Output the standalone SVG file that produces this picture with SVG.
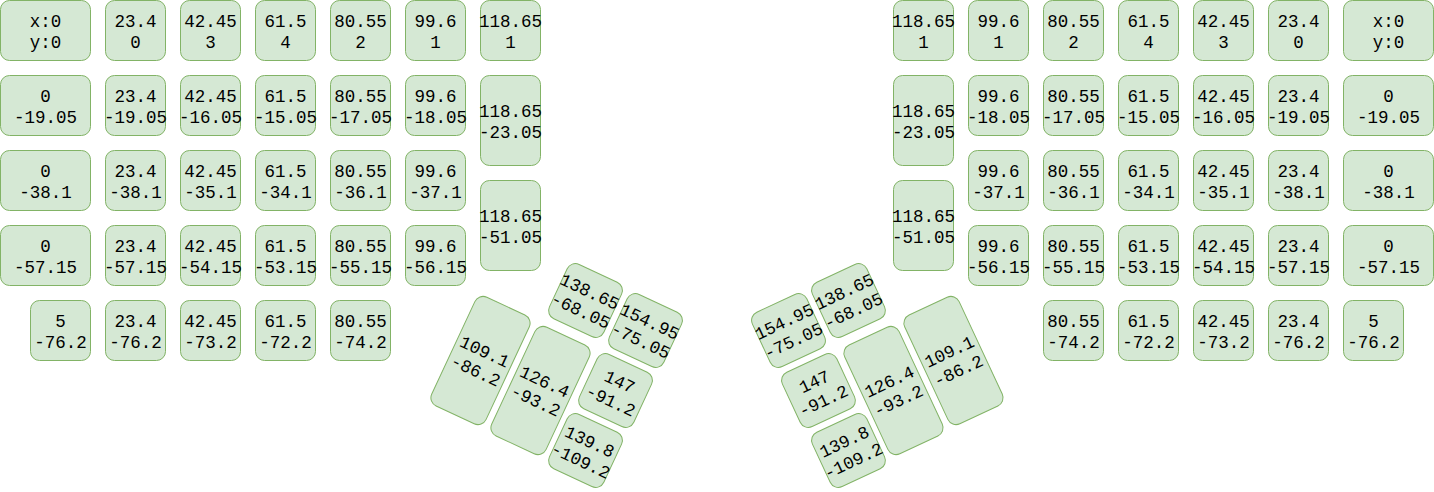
<svg xmlns="http://www.w3.org/2000/svg" width="1434" height="492" viewBox="0 0 1434 492">
<style>
.k{fill:#d5e8d4;stroke:#82b366;stroke-width:1}
.t{font-family:"Liberation Mono","Courier New",monospace;font-size:17.5px;fill:#000;text-anchor:middle}
</style>
<rect width="1434" height="492" fill="#ffffff"/>
<g transform="translate(0.5,0.5)">
<g id="left-main">
<g id="L-r0c0"><rect class="k" x="0" y="0" width="90" height="60" rx="9"/><text class="t" x="45" y="26">x:0<tspan x="45" dy="21">y:0</tspan></text></g>
<g id="L-r0c1"><rect class="k" x="105" y="0" width="60" height="60" rx="9"/><text class="t" x="135" y="26">23.4<tspan x="135" dy="21">0</tspan></text></g>
<g id="L-r0c2"><rect class="k" x="180" y="0" width="60" height="60" rx="9"/><text class="t" x="210" y="26">42.45<tspan x="210" dy="21">3</tspan></text></g>
<g id="L-r0c3"><rect class="k" x="255" y="0" width="60" height="60" rx="9"/><text class="t" x="285" y="26">61.5<tspan x="285" dy="21">4</tspan></text></g>
<g id="L-r0c4"><rect class="k" x="330" y="0" width="60" height="60" rx="9"/><text class="t" x="360" y="26">80.55<tspan x="360" dy="21">2</tspan></text></g>
<g id="L-r0c5"><rect class="k" x="405" y="0" width="60" height="60" rx="9"/><text class="t" x="435" y="26">99.6<tspan x="435" dy="21">1</tspan></text></g>
<g id="L-r0c6"><rect class="k" x="480" y="0" width="60" height="60" rx="9"/><text class="t" x="510" y="26">118.65<tspan x="510" dy="21">1</tspan></text></g>

<g id="L-r1c0"><rect class="k" x="0" y="75" width="90" height="60" rx="9"/><text class="t" x="45" y="101">0<tspan x="45" dy="21">-19.05</tspan></text></g>
<g id="L-r1c1"><rect class="k" x="105" y="75" width="60" height="60" rx="9"/><text class="t" x="135" y="101">23.4<tspan x="135" dy="21">-19.05</tspan></text></g>
<g id="L-r1c2"><rect class="k" x="180" y="75" width="60" height="60" rx="9"/><text class="t" x="210" y="101">42.45<tspan x="210" dy="21">-16.05</tspan></text></g>
<g id="L-r1c3"><rect class="k" x="255" y="75" width="60" height="60" rx="9"/><text class="t" x="285" y="101">61.5<tspan x="285" dy="21">-15.05</tspan></text></g>
<g id="L-r1c4"><rect class="k" x="330" y="75" width="60" height="60" rx="9"/><text class="t" x="360" y="101">80.55<tspan x="360" dy="21">-17.05</tspan></text></g>
<g id="L-r1c5"><rect class="k" x="405" y="75" width="60" height="60" rx="9"/><text class="t" x="435" y="101">99.6<tspan x="435" dy="21">-18.05</tspan></text></g>
<g id="L-r1c6"><rect class="k" x="480" y="75" width="60" height="90" rx="9"/><text class="t" x="510" y="116">118.65<tspan x="510" dy="21">-23.05</tspan></text></g>

<g id="L-r2c0"><rect class="k" x="0" y="150" width="90" height="60" rx="9"/><text class="t" x="45" y="176">0<tspan x="45" dy="21">-38.1</tspan></text></g>
<g id="L-r2c1"><rect class="k" x="105" y="150" width="60" height="60" rx="9"/><text class="t" x="135" y="176">23.4<tspan x="135" dy="21">-38.1</tspan></text></g>
<g id="L-r2c2"><rect class="k" x="180" y="150" width="60" height="60" rx="9"/><text class="t" x="210" y="176">42.45<tspan x="210" dy="21">-35.1</tspan></text></g>
<g id="L-r2c3"><rect class="k" x="255" y="150" width="60" height="60" rx="9"/><text class="t" x="285" y="176">61.5<tspan x="285" dy="21">-34.1</tspan></text></g>
<g id="L-r2c4"><rect class="k" x="330" y="150" width="60" height="60" rx="9"/><text class="t" x="360" y="176">80.55<tspan x="360" dy="21">-36.1</tspan></text></g>
<g id="L-r2c5"><rect class="k" x="405" y="150" width="60" height="60" rx="9"/><text class="t" x="435" y="176">99.6<tspan x="435" dy="21">-37.1</tspan></text></g>
<g id="L-r2c6"><rect class="k" x="480" y="180" width="60" height="90" rx="9"/><text class="t" x="510" y="221">118.65<tspan x="510" dy="21">-51.05</tspan></text></g>

<g id="L-r3c0"><rect class="k" x="0" y="225" width="90" height="60" rx="9"/><text class="t" x="45" y="251">0<tspan x="45" dy="21">-57.15</tspan></text></g>
<g id="L-r3c1"><rect class="k" x="105" y="225" width="60" height="60" rx="9"/><text class="t" x="135" y="251">23.4<tspan x="135" dy="21">-57.15</tspan></text></g>
<g id="L-r3c2"><rect class="k" x="180" y="225" width="60" height="60" rx="9"/><text class="t" x="210" y="251">42.45<tspan x="210" dy="21">-54.15</tspan></text></g>
<g id="L-r3c3"><rect class="k" x="255" y="225" width="60" height="60" rx="9"/><text class="t" x="285" y="251">61.5<tspan x="285" dy="21">-53.15</tspan></text></g>
<g id="L-r3c4"><rect class="k" x="330" y="225" width="60" height="60" rx="9"/><text class="t" x="360" y="251">80.55<tspan x="360" dy="21">-55.15</tspan></text></g>
<g id="L-r3c5"><rect class="k" x="405" y="225" width="60" height="60" rx="9"/><text class="t" x="435" y="251">99.6<tspan x="435" dy="21">-56.15</tspan></text></g>

<g id="L-r4c0"><rect class="k" x="30" y="300" width="60" height="60" rx="9"/><text class="t" x="60" y="326">5<tspan x="60" dy="21">-76.2</tspan></text></g>
<g id="L-r4c1"><rect class="k" x="105" y="300" width="60" height="60" rx="9"/><text class="t" x="135" y="326">23.4<tspan x="135" dy="21">-76.2</tspan></text></g>
<g id="L-r4c2"><rect class="k" x="180" y="300" width="60" height="60" rx="9"/><text class="t" x="210" y="326">42.45<tspan x="210" dy="21">-73.2</tspan></text></g>
<g id="L-r4c3"><rect class="k" x="255" y="300" width="60" height="60" rx="9"/><text class="t" x="285" y="326">61.5<tspan x="285" dy="21">-72.2</tspan></text></g>
<g id="L-r4c4"><rect class="k" x="330" y="300" width="60" height="60" rx="9"/><text class="t" x="360" y="326">80.55<tspan x="360" dy="21">-74.2</tspan></text></g>
</g>

<g id="left-thumb">
<g id="L-t1" transform="translate(480,360) rotate(25)"><rect class="k" x="-30" y="-60" width="60" height="120" rx="9"/><text class="t" x="0" y="-4">109.1<tspan x="0" dy="21">-86.2</tspan></text></g>
<g id="L-t2" transform="translate(540,390) rotate(25)"><rect class="k" x="-30" y="-60" width="60" height="120" rx="9"/><text class="t" x="0" y="-4">126.4<tspan x="0" dy="21">-93.2</tspan></text></g>
<g id="L-t3" transform="translate(585,300) rotate(25)"><rect class="k" x="-30" y="-30" width="60" height="60" rx="9"/><text class="t" x="0" y="-4">138.65<tspan x="0" dy="21">-68.05</tspan></text></g>
<g id="L-t4" transform="translate(645,330) rotate(25)"><rect class="k" x="-30" y="-30" width="60" height="60" rx="9"/><text class="t" x="0" y="-4">154.95<tspan x="0" dy="21">-75.05</tspan></text></g>
<g id="L-t5" transform="translate(615,390) rotate(25)"><rect class="k" x="-30" y="-30" width="60" height="60" rx="9"/><text class="t" x="0" y="-4">147<tspan x="0" dy="21">-91.2</tspan></text></g>
<g id="L-t6" transform="translate(585,450) rotate(25)"><rect class="k" x="-30" y="-30" width="60" height="60" rx="9"/><text class="t" x="0" y="-4">139.8<tspan x="0" dy="21">-109.2</tspan></text></g>
</g>

<g id="right-main">
<g id="R-r0c0"><rect class="k" x="1343" y="0" width="90" height="60" rx="9"/><text class="t" x="1388" y="26">x:0<tspan x="1388" dy="21">y:0</tspan></text></g>
<g id="R-r0c1"><rect class="k" x="1268" y="0" width="60" height="60" rx="9"/><text class="t" x="1298" y="26">23.4<tspan x="1298" dy="21">0</tspan></text></g>
<g id="R-r0c2"><rect class="k" x="1193" y="0" width="60" height="60" rx="9"/><text class="t" x="1223" y="26">42.45<tspan x="1223" dy="21">3</tspan></text></g>
<g id="R-r0c3"><rect class="k" x="1118" y="0" width="60" height="60" rx="9"/><text class="t" x="1148" y="26">61.5<tspan x="1148" dy="21">4</tspan></text></g>
<g id="R-r0c4"><rect class="k" x="1043" y="0" width="60" height="60" rx="9"/><text class="t" x="1073" y="26">80.55<tspan x="1073" dy="21">2</tspan></text></g>
<g id="R-r0c5"><rect class="k" x="968" y="0" width="60" height="60" rx="9"/><text class="t" x="998" y="26">99.6<tspan x="998" dy="21">1</tspan></text></g>
<g id="R-r0c6"><rect class="k" x="893" y="0" width="60" height="60" rx="9"/><text class="t" x="923" y="26">118.65<tspan x="923" dy="21">1</tspan></text></g>

<g id="R-r1c0"><rect class="k" x="1343" y="75" width="90" height="60" rx="9"/><text class="t" x="1388" y="101">0<tspan x="1388" dy="21">-19.05</tspan></text></g>
<g id="R-r1c1"><rect class="k" x="1268" y="75" width="60" height="60" rx="9"/><text class="t" x="1298" y="101">23.4<tspan x="1298" dy="21">-19.05</tspan></text></g>
<g id="R-r1c2"><rect class="k" x="1193" y="75" width="60" height="60" rx="9"/><text class="t" x="1223" y="101">42.45<tspan x="1223" dy="21">-16.05</tspan></text></g>
<g id="R-r1c3"><rect class="k" x="1118" y="75" width="60" height="60" rx="9"/><text class="t" x="1148" y="101">61.5<tspan x="1148" dy="21">-15.05</tspan></text></g>
<g id="R-r1c4"><rect class="k" x="1043" y="75" width="60" height="60" rx="9"/><text class="t" x="1073" y="101">80.55<tspan x="1073" dy="21">-17.05</tspan></text></g>
<g id="R-r1c5"><rect class="k" x="968" y="75" width="60" height="60" rx="9"/><text class="t" x="998" y="101">99.6<tspan x="998" dy="21">-18.05</tspan></text></g>
<g id="R-r1c6"><rect class="k" x="893" y="75" width="60" height="90" rx="9"/><text class="t" x="923" y="116">118.65<tspan x="923" dy="21">-23.05</tspan></text></g>

<g id="R-r2c0"><rect class="k" x="1343" y="150" width="90" height="60" rx="9"/><text class="t" x="1388" y="176">0<tspan x="1388" dy="21">-38.1</tspan></text></g>
<g id="R-r2c1"><rect class="k" x="1268" y="150" width="60" height="60" rx="9"/><text class="t" x="1298" y="176">23.4<tspan x="1298" dy="21">-38.1</tspan></text></g>
<g id="R-r2c2"><rect class="k" x="1193" y="150" width="60" height="60" rx="9"/><text class="t" x="1223" y="176">42.45<tspan x="1223" dy="21">-35.1</tspan></text></g>
<g id="R-r2c3"><rect class="k" x="1118" y="150" width="60" height="60" rx="9"/><text class="t" x="1148" y="176">61.5<tspan x="1148" dy="21">-34.1</tspan></text></g>
<g id="R-r2c4"><rect class="k" x="1043" y="150" width="60" height="60" rx="9"/><text class="t" x="1073" y="176">80.55<tspan x="1073" dy="21">-36.1</tspan></text></g>
<g id="R-r2c5"><rect class="k" x="968" y="150" width="60" height="60" rx="9"/><text class="t" x="998" y="176">99.6<tspan x="998" dy="21">-37.1</tspan></text></g>
<g id="R-r2c6"><rect class="k" x="893" y="180" width="60" height="90" rx="9"/><text class="t" x="923" y="221">118.65<tspan x="923" dy="21">-51.05</tspan></text></g>

<g id="R-r3c0"><rect class="k" x="1343" y="225" width="90" height="60" rx="9"/><text class="t" x="1388" y="251">0<tspan x="1388" dy="21">-57.15</tspan></text></g>
<g id="R-r3c1"><rect class="k" x="1268" y="225" width="60" height="60" rx="9"/><text class="t" x="1298" y="251">23.4<tspan x="1298" dy="21">-57.15</tspan></text></g>
<g id="R-r3c2"><rect class="k" x="1193" y="225" width="60" height="60" rx="9"/><text class="t" x="1223" y="251">42.45<tspan x="1223" dy="21">-54.15</tspan></text></g>
<g id="R-r3c3"><rect class="k" x="1118" y="225" width="60" height="60" rx="9"/><text class="t" x="1148" y="251">61.5<tspan x="1148" dy="21">-53.15</tspan></text></g>
<g id="R-r3c4"><rect class="k" x="1043" y="225" width="60" height="60" rx="9"/><text class="t" x="1073" y="251">80.55<tspan x="1073" dy="21">-55.15</tspan></text></g>
<g id="R-r3c5"><rect class="k" x="968" y="225" width="60" height="60" rx="9"/><text class="t" x="998" y="251">99.6<tspan x="998" dy="21">-56.15</tspan></text></g>

<g id="R-r4c0"><rect class="k" x="1343" y="300" width="60" height="60" rx="9"/><text class="t" x="1373" y="326">5<tspan x="1373" dy="21">-76.2</tspan></text></g>
<g id="R-r4c1"><rect class="k" x="1268" y="300" width="60" height="60" rx="9"/><text class="t" x="1298" y="326">23.4<tspan x="1298" dy="21">-76.2</tspan></text></g>
<g id="R-r4c2"><rect class="k" x="1193" y="300" width="60" height="60" rx="9"/><text class="t" x="1223" y="326">42.45<tspan x="1223" dy="21">-73.2</tspan></text></g>
<g id="R-r4c3"><rect class="k" x="1118" y="300" width="60" height="60" rx="9"/><text class="t" x="1148" y="326">61.5<tspan x="1148" dy="21">-72.2</tspan></text></g>
<g id="R-r4c4"><rect class="k" x="1043" y="300" width="60" height="60" rx="9"/><text class="t" x="1073" y="326">80.55<tspan x="1073" dy="21">-74.2</tspan></text></g>
</g>

<g id="right-thumb">
<g id="R-t1" transform="translate(953,360) rotate(-25)"><rect class="k" x="-30" y="-60" width="60" height="120" rx="9"/><text class="t" x="0" y="-4">109.1<tspan x="0" dy="21">-86.2</tspan></text></g>
<g id="R-t2" transform="translate(893,390) rotate(-25)"><rect class="k" x="-30" y="-60" width="60" height="120" rx="9"/><text class="t" x="0" y="-4">126.4<tspan x="0" dy="21">-93.2</tspan></text></g>
<g id="R-t3" transform="translate(848,300) rotate(-25)"><rect class="k" x="-30" y="-30" width="60" height="60" rx="9"/><text class="t" x="0" y="-4">138.65<tspan x="0" dy="21">-68.05</tspan></text></g>
<g id="R-t4" transform="translate(788,330) rotate(-25)"><rect class="k" x="-30" y="-30" width="60" height="60" rx="9"/><text class="t" x="0" y="-4">154.95<tspan x="0" dy="21">-75.05</tspan></text></g>
<g id="R-t5" transform="translate(818,390) rotate(-25)"><rect class="k" x="-30" y="-30" width="60" height="60" rx="9"/><text class="t" x="0" y="-4">147<tspan x="0" dy="21">-91.2</tspan></text></g>
<g id="R-t6" transform="translate(848,450) rotate(-25)"><rect class="k" x="-30" y="-30" width="60" height="60" rx="9"/><text class="t" x="0" y="-4">139.8<tspan x="0" dy="21">-109.2</tspan></text></g>
</g>
<g id="connectors"></g>
</g>
</svg>
